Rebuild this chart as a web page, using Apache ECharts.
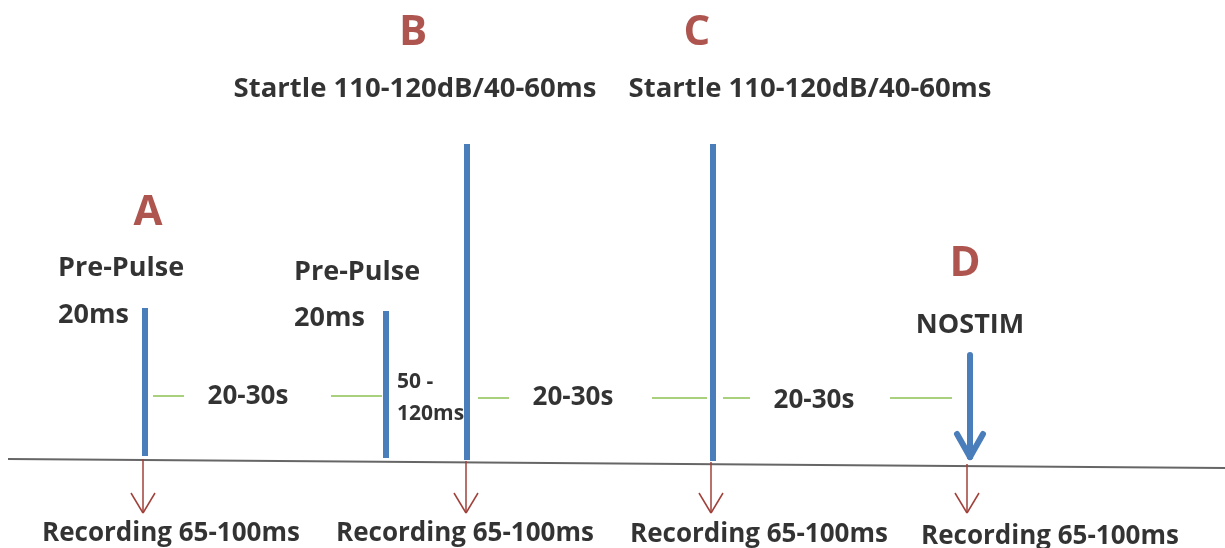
<!DOCTYPE html>
<html><head><meta charset="utf-8">
<script src="https://cdn.jsdelivr.net/npm/echarts@6/dist/echarts.min.js"></script>
<style>html,body{margin:0;padding:0;background:#fff}#c{width:1225px;height:548px}</style>
</head><body><div id="c"></div>
<script>
// Diagram values (x = time position, y = level, in plot units)
const pulseX = [145, 386, 467, 713];
const pulseTop = [308, 311, 144, 144];
const pulseBottom = [456, 458, 460, 461];
const nostimX = 970, nostimTop = 355, nostimTip = 461;
const recX = [143, 466, 711, 967];
const recTop = [459, 461, 462, 464];
const recTip = 513;
const baseline = [[8, 459], [1225, 468]];
const greenY = [396, 396, 398, 398, 398, 398];
const greenSegs = [[153, 184], [331, 382], [478, 509], [652, 707], [723, 750], [890, 952]];
const gapLabels = ['20-30s', '20-30s', '20-30s'];
const gapX = [248, 573, 814];
const gapY = [397, 398, 401];
const letters = ['A', 'B', 'C', 'D'];
const letterX = [148, 413, 697, 965];
const letterY = [213, 33, 33, 264];
const leftLabels = ['Pre-Pulse', '20ms', 'Pre-Pulse', '20ms'];
const leftLabelX = [58, 58, 294, 294];
const leftLabelY = [268, 315, 272, 318];
const centerLabels = ['Startle 110-120dB/40-60ms', 'Startle 110-120dB/40-60ms', 'NOSTIM'];
const centerLabelX = [415, 810, 970];
const centerLabelY = [89, 89, 325];
const isiLabels = ['50 -', '120ms'];
const isiX = [397, 397];
const isiY = [382, 414];
const recLabels = ['Recording 65-100ms', 'Recording 65-100ms', 'Recording 65-100ms', 'Recording 65-100ms'];
const recLabelX = [42, 336, 630, 921];
const recLabelY = [534, 534, 535, 537];

const FONT = 'Open Sans';
const blue = '#4a7ebb', red = '#a0403a', green = '#8cc152', txt = '#000';

function textSeries(labels, xs, ys, size, color, align) {
  return {
    type: 'scatter', symbolSize: 0, silent: true, z: 5,
    data: labels.map((t, i) => ({ value: [xs[i], ys[i]], name: t })),
    label: { show: true, position: 'inside', formatter: p => p.name, fontFamily: FONT,
      fontWeight: 'bold', fontSize: size, color: color, align: align, verticalAlign: 'middle' }
  };
}
function seg(a, b) { return { coords: [a, b] }; }

const pulseLines = pulseX.map((x, i) => seg([x, pulseTop[i]], [x, pulseBottom[i]]));
const recLines = [];
recX.forEach((x, i) => {
  recLines.push(seg([x, recTop[i]], [x, recTip]));
  recLines.push(seg([x - 12, recTip - 20], [x, recTip]));
  recLines.push(seg([x + 12, recTip - 20], [x, recTip]));
});
const nostimLines = [
  seg([nostimX, nostimTop], [nostimX, nostimTip - 4]),
  seg([nostimX - 13, nostimTip - 27], [nostimX, nostimTip - 4]),
  seg([nostimX + 13, nostimTip - 27], [nostimX, nostimTip - 4])
];
const greenLines = greenSegs.map((s, i) => seg([s[0], greenY[i]], [s[1], greenY[i]]));

const chart = echarts.init(document.getElementById('c'));
chart.setOption({
  animation: false,
  backgroundColor: '#fff',
  grid: { left: 0, right: 0, top: 0, bottom: 0 },
  xAxis: { type: 'value', min: 0, max: 1225, show: false },
  yAxis: { type: 'value', min: 0, max: 548, inverse: true, show: false },
  series: [
    { type: 'lines', coordinateSystem: 'cartesian2d', silent: true,
      data: [seg(baseline[0], baseline[1])], lineStyle: { color: '#666', width: 2, opacity: 1 } },
    { type: 'lines', coordinateSystem: 'cartesian2d', silent: true,
      data: greenLines, lineStyle: { color: green, width: 1.5, opacity: 1 } },
    { type: 'lines', coordinateSystem: 'cartesian2d', silent: true, z: 3,
      data: pulseLines, lineStyle: { color: blue, width: 6, opacity: 1 } },
    { type: 'lines', coordinateSystem: 'cartesian2d', silent: true, z: 3,
      data: nostimLines, lineStyle: { color: blue, width: 6, opacity: 1, cap: 'round' } },
    { type: 'lines', coordinateSystem: 'cartesian2d', silent: true,
      data: recLines, lineStyle: { color: red, width: 1.5, opacity: 1 } },
    textSeries(letters, letterX, letterY, 42, '#982a22', 'center'),
    textSeries(leftLabels, leftLabelX, leftLabelY, 27, txt, 'left'),
    textSeries(centerLabels.slice(0, 2), centerLabelX.slice(0, 2), centerLabelY.slice(0, 2), 27.5, txt, 'center'),
    textSeries(centerLabels.slice(2), centerLabelX.slice(2), centerLabelY.slice(2), 27, txt, 'center'),
    textSeries(isiLabels, isiX, isiY, 21, txt, 'left'),
    textSeries(gapLabels, gapX, gapY, 26, txt, 'center'),
    textSeries(recLabels, recLabelX, recLabelY, 26, txt, 'left')
  ]
});
</script></body></html>
